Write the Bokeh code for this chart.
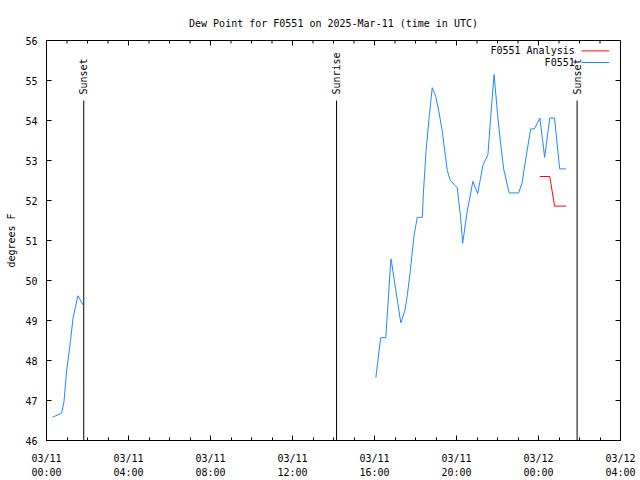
import numpy as np
import pandas as pd
from bokeh.plotting import figure
from bokeh.models import (ColumnDataSource, FixedTicker, SingleIntervalTicker,
                          DatetimeTickFormatter, Range1d, Label)
from bokeh.core.properties import value
from bokeh.embed import file_html
from bokeh.resources import INLINE

# ---------------- data ----------------
TITLE = "Dew Point for F0551 on 2025-Mar-11 (time in UTC)"
Y_LABEL = "degrees F"

# station observations, early part (before the data gap)
obs_am_time = ["2025-03-11 00:17", "2025-03-11 00:44", "2025-03-11 00:51", "2025-03-11 00:59",
               "2025-03-11 01:08", "2025-03-11 01:18", "2025-03-11 01:32", "2025-03-11 01:47"]
obs_am_dewpt = [46.58, 46.68, 46.96, 47.75, 48.33, 49.08, 49.62, 49.39]

# station observations, later part
obs_pm_time = ["2025-03-11 16:04", "2025-03-11 16:18", "2025-03-11 16:33", "2025-03-11 16:48",
               "2025-03-11 16:50", "2025-03-11 17:17", "2025-03-11 17:29", "2025-03-11 17:36",
               "2025-03-11 17:45", "2025-03-11 17:55", "2025-03-11 18:05", "2025-03-11 18:20",
               "2025-03-11 18:23", "2025-03-11 18:31", "2025-03-11 18:41", "2025-03-11 18:49",
               "2025-03-11 18:59", "2025-03-11 19:08", "2025-03-11 19:18", "2025-03-11 19:28",
               "2025-03-11 19:33", "2025-03-11 19:42", "2025-03-11 20:02", "2025-03-11 20:12",
               "2025-03-11 20:18", "2025-03-11 20:31", "2025-03-11 20:48", "2025-03-11 21:02",
               "2025-03-11 21:17", "2025-03-11 21:32", "2025-03-11 21:40", "2025-03-11 21:50",
               "2025-03-11 22:00", "2025-03-11 22:09", "2025-03-11 22:18", "2025-03-11 22:34",
               "2025-03-11 23:02", "2025-03-11 23:12", "2025-03-11 23:22", "2025-03-11 23:37",
               "2025-03-11 23:48", "2025-03-12 00:04", "2025-03-12 00:18", "2025-03-12 00:33",
               "2025-03-12 00:47", "2025-03-12 01:02", "2025-03-12 01:21"]
obs_pm_dewpt = [47.57, 48.57, 48.57, 50.54,
                50.45, 48.94, 49.25, 49.63,
                50.25, 51.08, 51.58, 51.58,
                52.17, 53.25, 54.17, 54.82,
                54.60, 54.25, 53.75, 53.08,
                52.75, 52.50, 52.32, 51.58,
                50.93, 51.71, 52.48, 52.17,
                52.87, 53.15, 54.08, 55.15,
                54.17, 53.42, 52.79, 52.19,
                52.19, 52.44, 53.00, 53.79,
                53.79, 54.06, 53.08, 54.06,
                54.06, 52.79, 52.79]

# analysis
analysis_time = ["2025-03-12 00:04", "2025-03-12 00:33", "2025-03-12 00:47", "2025-03-12 01:21"]
analysis_dewpt = [52.60, 52.60, 51.86, 51.86]

# sun events
event_names = ["Sunset", "Sunrise", "Sunset"]
event_times = ["2025-03-11 01:49", "2025-03-11 14:09", "2025-03-12 01:53"]

# axes
x_start, x_end = "2025-03-11 00:00", "2025-03-12 04:00"
y_start, y_end = 46, 56
x_tick_times = ["2025-03-11 00:00", "2025-03-11 04:00", "2025-03-11 08:00", "2025-03-11 12:00",
                "2025-03-11 16:00", "2025-03-11 20:00", "2025-03-12 00:00", "2025-03-12 04:00"]
y_ticks = [46, 47, 48, 49, 50, 51, 52, 53, 54, 55, 56]

legend_names = ["F0551 Analysis", "F0551"]

# ---------------- style ----------------
FONT = "DejaVu Sans Mono"
FS = "10px"
BLUE = "#1e88ff"
RED = "#ff0000"
EVENT_TOP = 54.5
MAJOR_TICK = 5
MINOR_TICK = 3


def ms(s):
    return pd.Timestamp(s).value / 1e6


major_ms = [ms(t) for t in x_tick_times]
minor_ms = [ms(t) for t in pd.date_range(x_start, x_end, freq="1h")]

p = figure(width=640, height=480, x_axis_type="datetime",
           x_range=Range1d(ms(x_start), ms(x_end)), y_range=Range1d(y_start, y_end),
           output_backend="svg", toolbar_location=None, title=TITLE,
           min_border_left=46, min_border_right=20, min_border_top=40, min_border_bottom=40)
p.background_fill_color = "white"
p.border_fill_color = "white"
p.outline_line_color = "black"
p.xgrid.visible = False
p.ygrid.visible = False

p.title.align = "center"
p.title.text_font = FONT
p.title.text_font_size = FS
p.title.text_font_style = "normal"
p.title.text_color = "black"
p.title.standoff = 24

fmt_str = "%m/%d\n%H:%M"
fmt = DatetimeTickFormatter(minutes=fmt_str, hourmin=fmt_str, hours=fmt_str, days=fmt_str,
                            months=fmt_str, years=fmt_str)


def style_axis(ax):
    ax.axis_line_color = "black"
    ax.major_tick_line_color = "black"
    ax.minor_tick_line_color = "black"
    ax.major_tick_in = MAJOR_TICK
    ax.major_tick_out = 0
    ax.minor_tick_in = MINOR_TICK
    ax.minor_tick_out = 0
    ax.major_label_text_font = FONT
    ax.major_label_text_color = "black"
    ax.major_label_text_font_size = FS


xa = p.xaxis[0]
xa.ticker = FixedTicker(ticks=major_ms, minor_ticks=minor_ms)
xa.formatter = fmt
style_axis(xa)
xa.major_label_standoff = 12
xa.major_label_text_line_height = 1.3

ya = p.yaxis[0]
ya.ticker = SingleIntervalTicker(interval=1, num_minor_ticks=0)
style_axis(ya)
ya.major_label_standoff = 9
ya.axis_label = Y_LABEL
ya.axis_label_text_font = FONT
ya.axis_label_text_font_size = FS
ya.axis_label_text_font_style = "normal"
ya.axis_label_text_color = "black"
ya.axis_label_standoff = 5

# mirrored ticks on the top and right frame edges (gnuplot style)
p.ray(x=major_ms, y=[y_end] * len(major_ms), length=MAJOR_TICK, length_units="screen",
      angle=-np.pi / 2, line_color="black", line_width=1)
p.ray(x=minor_ms, y=[y_end] * len(minor_ms), length=MINOR_TICK, length_units="screen",
      angle=-np.pi / 2, line_color="black", line_width=1)
p.ray(x=[ms(x_end)] * len(y_ticks), y=y_ticks, length=MAJOR_TICK, length_units="screen",
      angle=np.pi, line_color="black", line_width=1)

# data lines
am = ColumnDataSource(dict(t=pd.to_datetime(obs_am_time), v=obs_am_dewpt))
pm = ColumnDataSource(dict(t=pd.to_datetime(obs_pm_time), v=obs_pm_dewpt))
an = ColumnDataSource(dict(t=pd.to_datetime(analysis_time), v=analysis_dewpt))
p.line("t", "v", source=am, line_color=BLUE, line_width=1)
p.line("t", "v", source=pm, line_color=BLUE, line_width=1)
p.line("t", "v", source=an, line_color=RED, line_width=1)

# sun events
ev = ColumnDataSource(dict(t=pd.to_datetime(event_times), name=event_names,
                           y0=[y_start] * len(event_names), y1=[EVENT_TOP] * len(event_names)))
p.segment(x0="t", y0="y0", x1="t", y1="y1", source=ev, line_color="black", line_width=1)
p.text(x="t", y="y1", text="name", source=ev, angle=np.pi / 2, text_align="left",
       text_baseline="middle", y_offset=-6, text_font=value(FONT), text_font_size=FS,
       text_color="black")

# legend (label left, sample line right, gnuplot style)
LEG_TEXT_X = ms("2025-03-12 01:46")
LEG_LINE_X = [ms("2025-03-12 02:06"), ms("2025-03-12 03:27")]
LEG_Y = [55.74, 55.45]
for name, col, ly in zip(legend_names, [RED, BLUE], LEG_Y):
    p.add_layout(Label(x=LEG_TEXT_X, y=ly, text=name, text_align="right",
                       text_baseline="middle", text_font=FONT, text_font_size=FS,
                       text_color="black"))
    p.line(x=LEG_LINE_X, y=[ly, ly], line_color=col, line_width=1)

open("out.html", "w").write(file_html(p, INLINE))
